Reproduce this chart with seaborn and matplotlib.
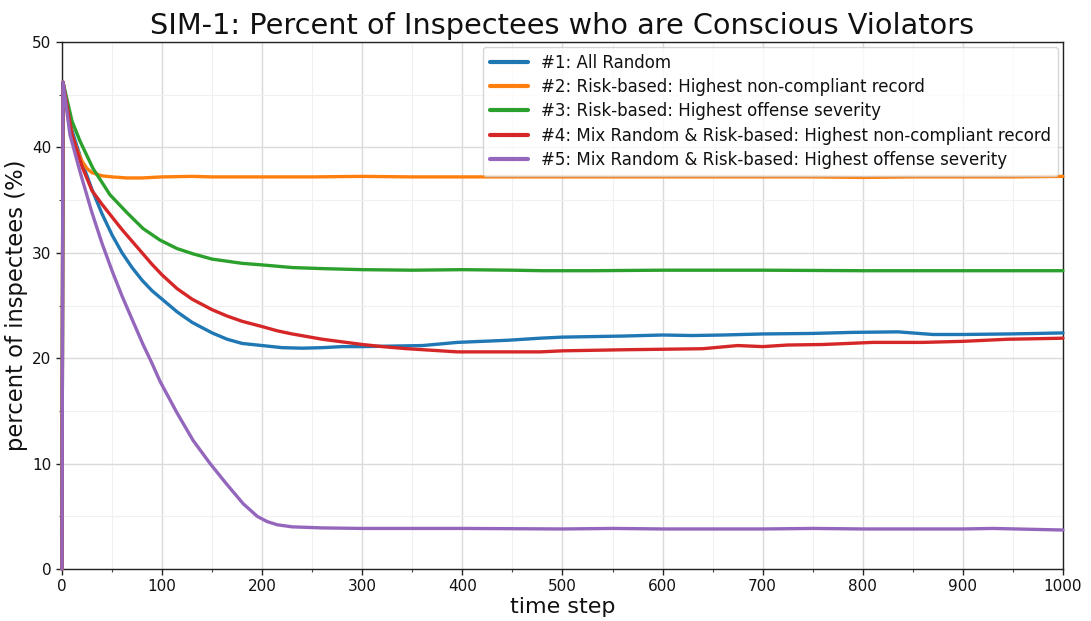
import matplotlib
matplotlib.use("Agg")
import matplotlib.pyplot as plt
from matplotlib.ticker import MultipleLocator
import seaborn as sns
import pandas as pd

sns.set_style("white")
plt.rcParams["font.family"] = ["DejaVu Sans"]
plt.rcParams["text.color"] = "#111111"
plt.rcParams["axes.labelcolor"] = "#111111"

# Time steps and percent of conscious violators for each inspection strategy
t_all_random = [0, 1, 10, 20, 30, 40, 50, 60, 70, 80, 90, 100, 115, 130, 150, 165, 180,
                200, 220, 240, 260, 280, 300, 330, 360, 395, 420, 445, 478, 500, 530,
                560, 600, 630, 660, 700, 750, 790, 835, 870, 900, 945, 975, 1000]
v_all_random = [0, 46.2, 41.6, 38.6, 36.0, 33.7, 31.7, 30.0, 28.6, 27.4, 26.4, 25.6, 24.4,
                23.4, 22.4, 21.8, 21.4, 21.2, 21.0, 20.95, 21.0, 21.1, 21.1, 21.15, 21.2,
                21.5, 21.6, 21.7, 21.9, 22.0, 22.05, 22.1, 22.2, 22.15, 22.2, 22.3, 22.35,
                22.45, 22.5, 22.25, 22.25, 22.3, 22.35, 22.4]

t_risk_record = [0, 1, 10, 15, 20, 25, 30, 40, 50, 65, 80, 100, 130, 150, 200, 250, 300,
                 350, 400, 450, 500, 550, 600, 650, 700, 750, 800, 850, 900, 950, 1000]
v_risk_record = [0, 46.2, 41.2, 39.8, 38.7, 38.0, 37.6, 37.3, 37.2, 37.1, 37.1, 37.2, 37.25,
                 37.2, 37.2, 37.2, 37.25, 37.2, 37.2, 37.2, 37.2, 37.2, 37.2, 37.2, 37.2,
                 37.2, 37.15, 37.2, 37.2, 37.2, 37.25]

t_risk_severity = [0, 1, 10, 18, 31, 48, 65, 81, 98, 115, 131, 150, 165, 180, 200, 230,
                   260, 300, 350, 400, 450, 480, 530, 600, 700, 800, 900, 1000]
v_risk_severity = [0, 46.2, 42.5, 40.6, 38.0, 35.5, 33.8, 32.3, 31.2, 30.4, 29.9, 29.4,
                   29.2, 29.0, 28.85, 28.6, 28.5, 28.4, 28.35, 28.4, 28.35, 28.3, 28.3,
                   28.35, 28.35, 28.3, 28.3, 28.3]

t_mix_record = [0, 1, 10, 20, 30, 40, 50, 60, 70, 80, 90, 100, 115, 130, 150, 165, 180,
                200, 215, 230, 260, 300, 320, 345, 370, 395, 420, 445, 478, 500, 530,
                560, 600, 640, 675, 700, 725, 760, 810, 860, 900, 945, 975, 1000]
v_mix_record = [0, 46.2, 41.2, 38.2, 35.9, 34.6, 33.4, 32.2, 31.1, 30.0, 28.9, 27.9, 26.6,
                25.6, 24.6, 24.0, 23.5, 23.0, 22.6, 22.3, 21.8, 21.3, 21.1, 20.9, 20.75,
                20.6, 20.6, 20.6, 20.6, 20.7, 20.75, 20.8, 20.85, 20.9, 21.2, 21.1, 21.25,
                21.3, 21.5, 21.5, 21.6, 21.8, 21.85, 21.9]

t_mix_severity = [0, 1, 8, 18, 30, 40, 50, 60, 70, 81, 90, 98, 115, 131, 148, 165, 181,
                  195, 205, 215, 230, 260, 300, 400, 500, 550, 600, 700, 750, 800, 900,
                  930, 1000]
v_mix_severity = [0, 46.2, 41.2, 37.7, 33.8, 30.9, 28.3, 25.9, 23.7, 21.3, 19.5, 17.8,
                  14.8, 12.2, 10.0, 8.0, 6.2, 5.0, 4.5, 4.2, 4.0, 3.9, 3.85, 3.85, 3.8,
                  3.85, 3.8, 3.8, 3.85, 3.8, 3.8, 3.85, 3.7]

labels = [
    "#1: All Random",
    "#2: Risk-based: Highest non-compliant record",
    "#3: Risk-based: Highest offense severity",
    "#4: Mix Random & Risk-based: Highest non-compliant record",
    "#5: Mix Random & Risk-based: Highest offense severity",
]
series = [
    (t_all_random, v_all_random),
    (t_risk_record, v_risk_record),
    (t_risk_severity, v_risk_severity),
    (t_mix_record, v_mix_record),
    (t_mix_severity, v_mix_severity),
]

colors = sns.color_palette("tab10", 5)

fig = plt.figure(figsize=(10.91, 6.21), dpi=100)
ax = fig.add_axes([0.0568, 0.0837, 0.9175, 0.8487])

for (t, v), lab, col in zip(series, labels, colors):
    df = pd.DataFrame({"time step": t, "value": v})
    sns.lineplot(data=df, x="time step", y="value", ax=ax, color=col, lw=2.4,
                 label=lab, estimator=None, sort=True)

for line in ax.get_lines():
    line.set_clip_on(False)
    line.set_zorder(3)

ax.set_xlim(0, 1000)
ax.set_ylim(0, 50)
ax.xaxis.set_major_locator(MultipleLocator(100))
ax.xaxis.set_minor_locator(MultipleLocator(50))
ax.yaxis.set_major_locator(MultipleLocator(10))
ax.yaxis.set_minor_locator(MultipleLocator(5))
ax.grid(which="major", color="#dadada", lw=1.0)
ax.grid(which="minor", color="#f0f0f0", lw=0.8)
ax.set_axisbelow(True)
ax.tick_params(which="major", direction="out", length=4, width=1, labelsize=11,
               bottom=True, left=True, colors="#222222", labelcolor="#111111")
ax.tick_params(which="minor", direction="out", length=2.5, width=0.8,
               bottom=True, left=True, colors="#444444")
for s in ax.spines.values():
    s.set_visible(True)
    s.set_color("#222222")
    s.set_linewidth(1.0)

ax.set_xlabel("time step", fontsize=16, labelpad=2)
ax.set_ylabel("percent of inspectees (%)", fontsize=16.3, labelpad=3)
ax.set_title("SIM-1: Percent of Inspectees who are Conscious Violators",
             fontsize=20.7, pad=6)

leg = ax.legend(loc="upper right", fontsize=12, frameon=True, handlelength=2.3,
                borderaxespad=0.3, labelspacing=0.38)
for h in leg.get_lines():
    h.set_linewidth(3)

fig.savefig("out.png", dpi=100)
